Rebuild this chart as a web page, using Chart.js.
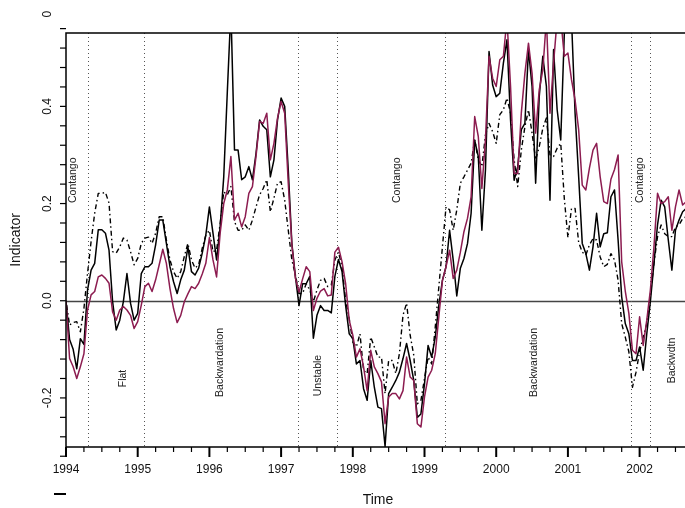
<!DOCTYPE html>
<html>
<head>
<meta charset="utf-8">
<title>Indicator</title>
<script src="https://cdn.jsdelivr.net/npm/chart.js@4.4.1/dist/chart.umd.min.js"></script>
<style>
  html, body { margin: 0; padding: 0; background: #fff; }
  canvas { display: block; }
</style>
</head>
<body>
<canvas id="chart" width="685" height="508"></canvas>
<script>
// ======= Data (one value every 0.05 year, starting 1994.00) =======
const startYear = 1994;
const stepYears = 0.05;

const solidSeries = [
    0.0, -0.08, -0.10, -0.14, -0.078, -0.09, 0.022, 0.063, 0.077, 0.146, 0.146, 0.139, 0.104, -0.002, -0.060, -0.040, -0.002, 0.056, -0.005, -0.040,
    -0.026, 0.056, 0.070, 0.070, 0.077, 0.115, 0.166, 0.166, 0.118, 0.070, 0.039, 0.015, 0.043, 0.063, 0.111, 0.060, 0.053, 0.067, 0.098, 0.135,
    0.193, 0.139, 0.084, 0.152, 0.255, 0.43, 0.60, 0.31, 0.310, 0.249, 0.255, 0.276, 0.249, 0.303, 0.372, 0.359, 0.352, 0.255, 0.290, 0.372,
    0.417, 0.400, 0.269, 0.118, 0.049, -0.01, 0.035, 0.035, 0.05, -0.077, -0.03, -0.01, -0.02, -0.02, -0.025, 0.05, 0.085, 0.06, -0.01, -0.068,
    -0.078, -0.130, -0.123, -0.181, -0.205, -0.123, -0.178, -0.219, -0.222, -0.30, -0.191, -0.178, -0.164, -0.147, -0.119, -0.088, -0.123, -0.164, -0.240, -0.233,
    -0.171, -0.092, -0.116, -0.075, -0.009, 0.042, 0.070, 0.145, 0.084, 0.01, 0.067, 0.087, 0.118, 0.18, 0.33, 0.297, 0.145, 0.269, 0.513, 0.444,
    0.420, 0.427, 0.489, 0.537, 0.372, 0.248, 0.276, 0.352, 0.365, 0.517, 0.441, 0.242, 0.420, 0.503, 0.441, 0.207, 0.517, 0.393, 0.331, 0.551,
    0.58, 0.58, 0.386, 0.255, 0.118, 0.097, 0.063, 0.111, 0.180, 0.111, 0.138, 0.14, 0.214, 0.228, 0.125, 0.008, -0.047, -0.068, -0.123, -0.123,
    -0.095, -0.143, -0.068, -0.002, 0.077, 0.156, 0.207, 0.193, 0.125, 0.063, 0.145, 0.166, 0.183, 0.190
];

const dashSeries = [
    0.0, -0.050, -0.045, -0.043, -0.064, -0.016, 0.056, 0.122, 0.180, 0.221, 0.221, 0.223, 0.201, 0.101, 0.098, 0.111, 0.129, 0.125, 0.101, 0.074,
    0.087, 0.118, 0.129, 0.131, 0.118, 0.139, 0.173, 0.173, 0.125, 0.084, 0.060, 0.046, 0.060, 0.091, 0.118, 0.084, 0.067, 0.074, 0.108, 0.135,
    0.145, 0.101, 0.104, 0.159, 0.224, 0.218, 0.235, 0.163, 0.145, 0.145, 0.156, 0.145, 0.166, 0.193, 0.218, 0.231, 0.249, 0.183, 0.211, 0.242,
    0.245, 0.207, 0.145, 0.084, 0.053, 0.015, 0.015, 0.035, 0.022, -0.002, 0.022, 0.042, 0.046, 0.029, 0.032, 0.084, 0.100, 0.070, 0.000, -0.037,
    -0.085, -0.095, -0.068, -0.143, -0.150, -0.075, -0.095, -0.116, -0.116, -0.191, -0.123, -0.123, -0.150, -0.109, -0.030, -0.005, -0.071, -0.112, -0.212, -0.205,
    -0.160, -0.116, -0.130, -0.054, 0.029, 0.111, 0.193, 0.187, 0.145, 0.187, 0.242, 0.255, 0.269, 0.283, 0.331, 0.290, 0.276, 0.341, 0.365, 0.348,
    0.324, 0.383, 0.393, 0.417, 0.386, 0.290, 0.235, 0.310, 0.358, 0.393, 0.345, 0.290, 0.317, 0.355, 0.376, 0.300, 0.297, 0.314, 0.324, 0.210,
    0.130, 0.190, 0.190, 0.120, 0.100, 0.094, 0.115, 0.128, 0.125, 0.090, 0.070, 0.075, 0.097, 0.084, 0.042, -0.047, -0.075, -0.105, -0.178, -0.147,
    -0.105, -0.075, -0.047, 0.011, 0.077, 0.132, 0.156, 0.138, 0.132, 0.132, 0.152, 0.156, 0.169, 0.173
];

const maroonSeries = [
    0.0, -0.119, -0.136, -0.160, -0.136, -0.109, -0.019, 0.012, 0.019, 0.049, 0.053, 0.046, 0.036, -0.023, -0.040, -0.019, -0.012, -0.019, -0.030, -0.057,
    -0.043, -0.009, 0.029, 0.036, 0.019, 0.043, 0.074, 0.106, 0.077, 0.025, -0.016, -0.045, -0.030, -0.002, 0.014, 0.029, 0.025, 0.036, 0.055, 0.077,
    0.13, 0.084, 0.049, 0.139, 0.200, 0.228, 0.297, 0.166, 0.180, 0.152, 0.173, 0.221, 0.235, 0.297, 0.369, 0.365, 0.386, 0.290, 0.324, 0.376,
    0.410, 0.386, 0.242, 0.115, 0.046, 0.018, 0.045, 0.07, 0.06, -0.02, 0.005, 0.02, 0.025, 0.01, 0.012, 0.10, 0.11, 0.08, 0.035, -0.040,
    -0.071, -0.116, -0.099, -0.136, -0.185, -0.102, -0.136, -0.150, -0.167, -0.253, -0.198, -0.191, -0.191, -0.202, -0.185, -0.116, -0.157, -0.164, -0.253, -0.260,
    -0.198, -0.157, -0.143, -0.109, -0.033, 0.042, 0.070, 0.104, 0.046, 0.063, 0.100, 0.142, 0.170, 0.214, 0.379, 0.338, 0.231, 0.331, 0.503, 0.458,
    0.441, 0.496, 0.503, 0.58, 0.441, 0.262, 0.262, 0.386, 0.468, 0.530, 0.468, 0.345, 0.434, 0.475, 0.58, 0.386, 0.489, 0.58, 0.58, 0.503,
    0.510, 0.455, 0.413, 0.352, 0.238, 0.228, 0.273, 0.310, 0.324, 0.255, 0.204, 0.20, 0.25, 0.27, 0.30, 0.08, 0.02, -0.026, -0.102, -0.109,
    -0.033, -0.092, -0.040, 0.022, 0.111, 0.221, 0.200, 0.204, 0.214, 0.145, 0.193, 0.228, 0.197, 0.204
];

const yearTicks = [1994, 1995, 1996, 1997, 1998, 1999, 2000, 2001, 2002];
const yTickLabels = [-0.2, 0.0, 0.2, 0.4, 0.6];

// regime changes (dotted verticals) and their names
const regimeBreaks = [1994.30, 1995.09, 1997.23, 1997.78, 1999.28, 2001.88, 2002.15];
const regimeNames = ['Contango', 'Flat', 'Backwardation', 'Unstable', 'Contango', 'Backwardation', 'Contango', 'Backwdtn'];
const regimeNameYears = [1994.098, 1994.795, 1996.148, 1997.515, 1998.617, 2000.527, 2002.006, 2002.452];
const regimeNameLevels = [0.248, -0.160, -0.127, -0.154, 0.248, -0.127, 0.248, -0.123];

const toPoints = arr => arr.map((v, i) => ({ x: startYear + i * stepYears, y: v }));

const FONT = '"Liberation Sans", Arial, Helvetica, sans-serif';

// ======= R style frame, axes and annotations =======
const framePlugin = {
    id: 'frame',
    beforeDatasetsDraw(chart) {
        const ctx = chart.ctx;
        const area = chart.chartArea;
        const xs = chart.scales.x;
        const ys = chart.scales.y;
        ctx.save();
        ctx.beginPath();
        ctx.rect(area.left, area.top, area.right - area.left, area.bottom - area.top);
        ctx.clip();

        // zero line
        const y0 = Math.round(ys.getPixelForValue(0)) + 0.5;
        ctx.strokeStyle = '#444';
        ctx.lineWidth = 1.5;
        ctx.beginPath();
        ctx.moveTo(area.left, y0);
        ctx.lineTo(area.right, y0);
        ctx.stroke();

        // regime breaks
        ctx.strokeStyle = '#555';
        ctx.lineWidth = 1;
        ctx.setLineDash([1, 3]);
        regimeBreaks.forEach(yr => {
            const x = Math.round(xs.getPixelForValue(yr)) + 0.5;
            ctx.beginPath();
            ctx.moveTo(x, area.top);
            ctx.lineTo(x, area.bottom);
            ctx.stroke();
        });
        ctx.setLineDash([]);

        // regime names
        ctx.fillStyle = '#222';
        ctx.font = '10.5px ' + FONT;
        ctx.textAlign = 'center';
        ctx.textBaseline = 'middle';
        regimeNames.forEach((name, i) => {
            ctx.save();
            ctx.translate(xs.getPixelForValue(regimeNameYears[i]), ys.getPixelForValue(regimeNameLevels[i]));
            ctx.rotate(-Math.PI / 2);
            ctx.fillText(name, 0, 0);
            ctx.restore();
        });
        ctx.restore();
    },
    afterDraw(chart) {
        const ctx = chart.ctx;
        const area = chart.chartArea;
        const xs = chart.scales.x;
        const ys = chart.scales.y;
        ctx.save();
        ctx.strokeStyle = '#000';
        ctx.fillStyle = '#111';

        // box (right side runs off the picture)
        ctx.lineWidth = 1.5;
        ctx.beginPath();
        ctx.moveTo(area.right + 5, area.top);
        ctx.lineTo(area.left, area.top);
        ctx.lineTo(area.left, area.bottom);
        ctx.lineTo(area.right + 5, area.bottom);
        ctx.stroke();

        // x ticks: quarters, longer at years
        for (let k = 0; k <= 34; k++) {
            const yr = startYear + k * 0.25;
            const x = xs.getPixelForValue(yr);
            const major = k % 4 === 0;
            ctx.lineWidth = major ? 2 : 1.2;
            ctx.beginPath();
            ctx.moveTo(x, area.bottom);
            ctx.lineTo(x, area.bottom + (major ? 10 : 5));
            ctx.stroke();
        }
        ctx.font = '12px ' + FONT;
        ctx.textAlign = 'center';
        ctx.textBaseline = 'middle';
        yearTicks.forEach(yr => ctx.fillText(String(yr), xs.getPixelForValue(yr), 470));

        // y ticks every 0.04
        ctx.lineWidth = 1.2;
        for (let k = -8; k <= 14; k++) {
            const y = ys.getPixelForValue(k * 0.04);
            ctx.beginPath();
            ctx.moveTo(area.left - 6, y);
            ctx.lineTo(area.left, y);
            ctx.stroke();
        }
        ctx.save();
        ctx.beginPath();
        ctx.rect(0, 10, area.left, chart.height);
        ctx.clip();
        yTickLabels.forEach(v => {
            ctx.save();
            ctx.translate(47.5, ys.getPixelForValue(v));
            ctx.rotate(-Math.PI / 2);
            ctx.fillText(v.toFixed(1), 0, 0);
            ctx.restore();
        });
        ctx.restore();

        // stray mark under the first year label
        ctx.lineWidth = 2;
        ctx.beginPath();
        ctx.moveTo(54, 494);
        ctx.lineTo(66, 494);
        ctx.stroke();

        // axis titles
        ctx.font = '14px ' + FONT;
        ctx.fillText('Time', 378, 500);
        ctx.save();
        ctx.translate(16, (area.top + area.bottom) / 2);
        ctx.rotate(-Math.PI / 2);
        ctx.fillText('Indicator', 0, 0);
        ctx.restore();
        ctx.restore();
    }
};

const lineStyle = {
    pointRadius: 0,
    pointHoverRadius: 0,
    tension: 0,
    fill: false,
    borderJoinStyle: 'round'
};

new Chart(document.getElementById('chart').getContext('2d'), {
    type: 'line',
    data: {
        datasets: [
            { ...lineStyle, label: 'Maroon', data: toPoints(maroonSeries), borderColor: '#8c1c50', borderWidth: 1.5, order: 0 },
            { ...lineStyle, label: 'Solid', data: toPoints(solidSeries), borderColor: '#000', borderWidth: 1.5, order: 1 },
            { ...lineStyle, label: 'DotDash', data: toPoints(dashSeries), borderColor: '#000', borderWidth: 1.4, borderDash: [1.5, 3, 5, 3], order: 2 }
        ]
    },
    options: {
        responsive: false,
        animation: false,
        devicePixelRatio: 1,
        layout: { padding: { left: 66, top: 33, right: 0, bottom: 61 } },
        plugins: { legend: { display: false }, tooltip: { enabled: false } },
        scales: {
            x: { type: 'linear', min: 1994, max: 2002.633, display: false },
            y: { type: 'linear', min: -0.301, max: 0.551, display: false }
        }
    },
    plugins: [framePlugin]
});
</script>
</body>
</html>
